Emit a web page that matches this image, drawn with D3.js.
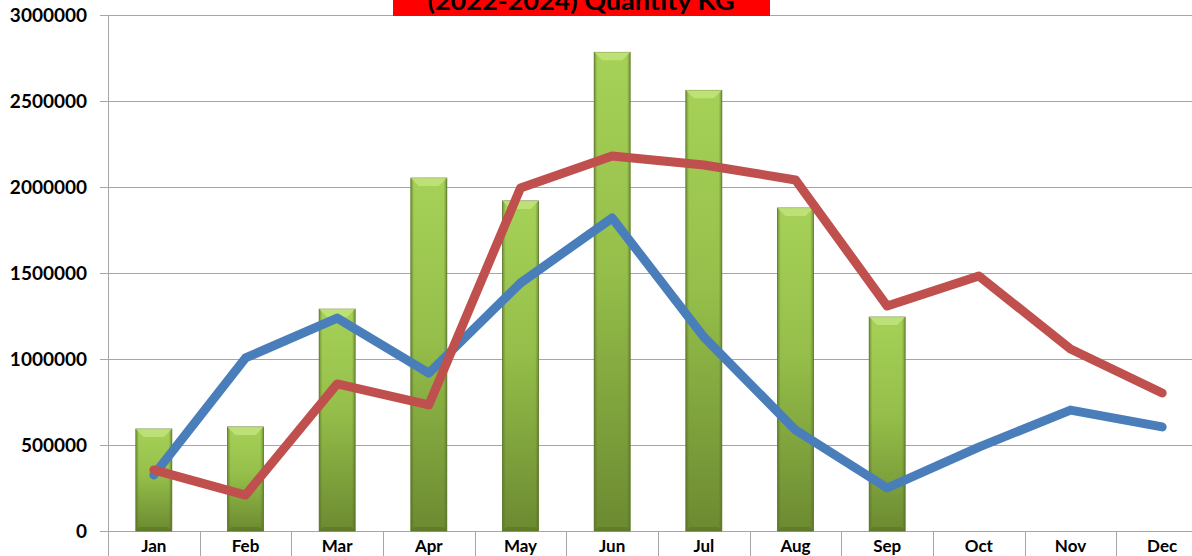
<!DOCTYPE html>
<html>
<head>
<meta charset="utf-8">
<script src="https://cdn.jsdelivr.net/npm/d3@7"></script>
<style>
  body { margin: 0; background: #fff; }
  svg text { font-family: Lato, 'Open Sans', sans-serif; font-weight: bold; fill: #000; }
</style>
</head>
<body>
<div id="canvas"></div>
<script>
const months = ['Jan', 'Feb', 'Mar', 'Apr', 'May', 'Jun', 'Jul', 'Aug', 'Sep', 'Oct', 'Nov', 'Dec'];
const barValues = [593000, 605000, 1290000, 2052000, 1919000, 2783000, 2562000, 1878000, 1244000, null, null, null];
const blueValues = [326000, 1006000, 1238000, 918000, 1442000, 1820000, 1128000, 587000, 250000, 488000, 703000, 605000];
const redValues = [355000, 209000, 855000, 733000, 1994000, 2180000, 2128000, 2041000, 1308000, 1483000, 1058000, 802000];
const yTicks = [0, 500000, 1000000, 1500000, 2000000, 2500000, 3000000];
const titleText = '(2022-2024)  Quantity KG';

const w = 1192;
const h = 556;

const svg = d3.select('#canvas')
  .append('svg')
  .attr('width', w)
  .attr('height', h);

const x = d3.scaleBand()
  .domain(months)
  .range([108, 1208]);

const y = d3.scaleLinear()
  .domain([0, 3000000])
  .range([531, 15]);

// gradients for the bevelled bars
const defs = svg.append('defs');
const vGrad = defs.append('linearGradient')
  .attr('id', 'barV')
  .attr('x1', 0).attr('y1', 0).attr('x2', 0).attr('y2', 1);
vGrad.append('stop').attr('offset', '0%').attr('stop-color', '#a6d157');
vGrad.append('stop').attr('offset', '45%').attr('stop-color', '#95bf4a');
vGrad.append('stop').attr('offset', '100%').attr('stop-color', '#6c8a31');

const hGrad = defs.append('linearGradient')
  .attr('id', 'barH')
  .attr('x1', 0).attr('y1', 0).attr('x2', 1).attr('y2', 0);
hGrad.append('stop').attr('offset', '0%').attr('stop-color', '#4e6622').attr('stop-opacity', 0.55);
hGrad.append('stop').attr('offset', '9%').attr('stop-color', '#4e6622').attr('stop-opacity', 0);
hGrad.append('stop').attr('offset', '91%').attr('stop-color', '#4e6622').attr('stop-opacity', 0);
hGrad.append('stop').attr('offset', '100%').attr('stop-color', '#4e6622').attr('stop-opacity', 0.55);

// gridlines
svg.append('g')
  .selectAll('line')
  .data(yTicks)
  .enter()
  .append('line')
  .attr('x1', 100)
  .attr('x2', w)
  .attr('y1', d => Math.round(y(d)) + 0.5)
  .attr('y2', d => Math.round(y(d)) + 0.5)
  .attr('stroke', '#a6a6a6')
  .attr('stroke-width', 1);

// y axis line
svg.append('line')
  .attr('x1', 108.5).attr('x2', 108.5)
  .attr('y1', y(3000000)).attr('y2', h)
  .attr('stroke', '#a6a6a6');

// category separators below the axis
svg.append('g')
  .selectAll('line')
  .data(months.slice(1))
  .enter()
  .append('line')
  .attr('x1', d => Math.round(x(d)) + 0.5)
  .attr('x2', d => Math.round(x(d)) + 0.5)
  .attr('y1', y(0))
  .attr('y2', h)
  .attr('stroke', '#a6a6a6');

// y tick labels
svg.append('g')
  .selectAll('text')
  .data(yTicks)
  .enter()
  .append('text')
  .attr('x', 87)
  .attr('y', d => y(d) + 7)
  .attr('text-anchor', 'end')
  .style('font-size', '19px')
  .text(d => d);

// x labels
svg.append('g')
  .selectAll('text')
  .data(months)
  .enter()
  .append('text')
  .attr('x', d => x(d) + x.bandwidth() / 2)
  .attr('y', 552)
  .attr('text-anchor', 'middle')
  .style('font-size', '17px')
  .text(d => d);

// bars
const barW = 36;
const bev = 8;
const bars = svg.append('g')
  .selectAll('g')
  .data(months.map((m, i) => ({ m: m, v: barValues[i] })).filter(d => d.v != null))
  .enter()
  .append('g');

bars.append('rect')
  .attr('x', d => x(d.m) + x.bandwidth() / 2 - barW / 2)
  .attr('y', d => y(d.v))
  .attr('width', barW)
  .attr('height', d => y(0) - y(d.v))
  .attr('fill', 'url(#barV)')
  .attr('stroke', '#5f7a2a')
  .attr('stroke-width', 0.8);

bars.append('rect')
  .attr('x', d => x(d.m) + x.bandwidth() / 2 - barW / 2)
  .attr('y', d => y(d.v))
  .attr('width', barW)
  .attr('height', d => y(0) - y(d.v))
  .attr('fill', 'url(#barH)');

// top bevel highlight
bars.append('path')
  .attr('d', d => {
    const cx = x(d.m) + x.bandwidth() / 2;
    const t = y(d.v);
    return 'M' + (cx - barW / 2) + ',' + t + 'L' + (cx + barW / 2) + ',' + t +
      'L' + (cx + barW / 2 - bev) + ',' + (t + bev) + 'L' + (cx - barW / 2 + bev) + ',' + (t + bev) + 'Z';
  })
  .attr('fill', '#c3e57f')
  .attr('opacity', 0.8);

// bottom bevel shade
bars.append('path')
  .attr('d', d => {
    const cx = x(d.m) + x.bandwidth() / 2;
    const b = y(0);
    return 'M' + (cx - barW / 2) + ',' + b + 'L' + (cx + barW / 2) + ',' + b +
      'L' + (cx + barW / 2 - 4) + ',' + (b - 4) + 'L' + (cx - barW / 2 + 4) + ',' + (b - 4) + 'Z';
  })
  .attr('fill', '#5a7426')
  .attr('opacity', 0.6);

// lines
const line = d3.line()
  .x((d, i) => x(months[i]) + x.bandwidth() / 2)
  .y(d => y(d));

svg.append('path')
  .datum(blueValues)
  .attr('d', line)
  .attr('fill', 'none')
  .attr('stroke', '#4a7ebb')
  .attr('stroke-width', 9)
  .attr('stroke-linecap', 'round')
  .attr('stroke-linejoin', 'round');

svg.append('path')
  .datum(redValues)
  .attr('d', line)
  .attr('fill', 'none')
  .attr('stroke', '#c0504d')
  .attr('stroke-width', 9)
  .attr('stroke-linecap', 'round')
  .attr('stroke-linejoin', 'round');

// title box (cut off at the top)
svg.append('rect')
  .attr('x', 393)
  .attr('y', 0)
  .attr('width', 377)
  .attr('height', 16)
  .attr('fill', '#ff0000');

svg.append('text')
  .attr('x', 581)
  .attr('y', 10)
  .attr('text-anchor', 'middle')
  .attr('textLength', 307)
  .attr('lengthAdjust', 'spacingAndGlyphs')
  .style('font-size', '24px')
  .text(titleText);
</script>
</body>
</html>
